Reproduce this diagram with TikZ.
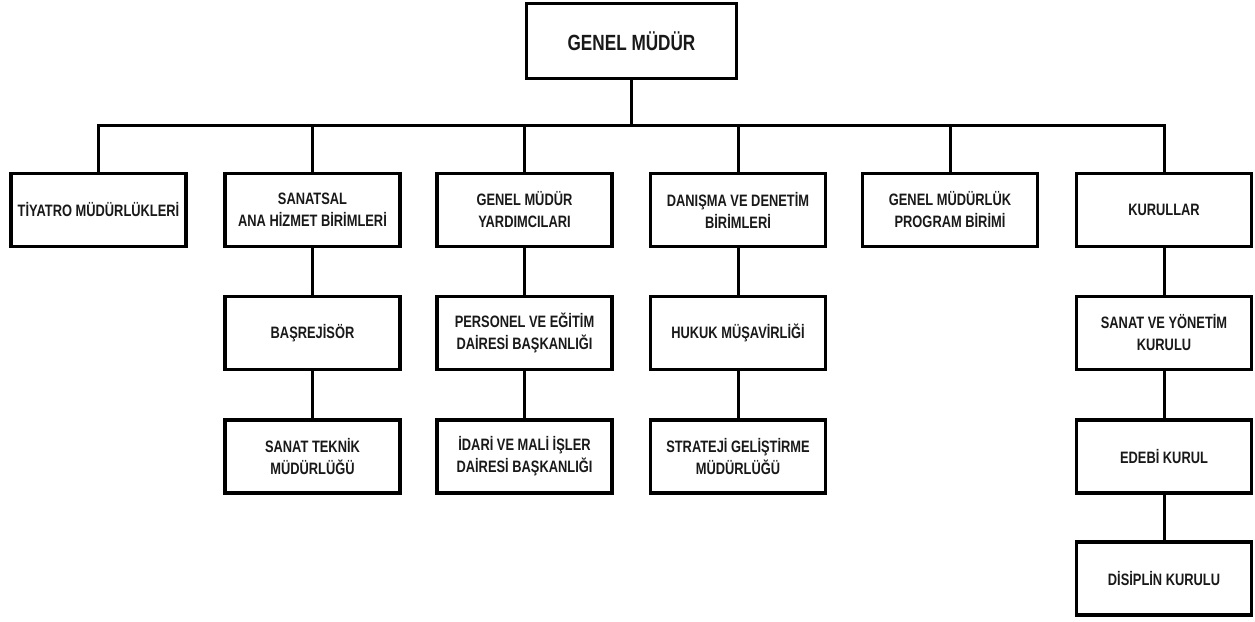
\documentclass[tikz,border=0pt]{standalone}
\usepackage{fontspec}
\setmainfont{Liberation Sans}[FakeStretch=0.78]
\begin{document}
\begin{tikzpicture}[x=1pt,y=-1pt,
  box/.style={draw, line width=3.5pt, align=center, inner sep=0pt,
    text=black!90, font=\bfseries\fontsize{16.5}{22}\selectfont,
    minimum width=175pt, minimum height=73pt},
  conn/.style={line width=3pt}]
\useasboundingbox (0,0) rectangle (1255,621);
% top
\node[box, minimum width=210pt, minimum height=75pt, font=\bfseries\fontsize{22}{26}\selectfont] (gm) at (631.5,41) {GENEL MÜDÜR};
% row 1
\node[box] (tiy) at (98.5,210) {TİYATRO MÜDÜRLÜKLERİ};
\node[box] (san) at (312.5,210) {SANATSAL\\ANA HİZMET BİRİMLERİ};
\node[box] (gmy) at (524.5,210) {GENEL MÜDÜR\\YARDIMCILARI};
\node[box] (dan) at (738,210) {DANIŞMA VE DENETİM\\BİRİMLERİ};
\node[box] (prg) at (950,210) {GENEL MÜDÜRLÜK\\PROGRAM BİRİMİ};
\node[box] (kur) at (1164,210) {KURULLAR};
% row 2
\node[box] (bas) at (312.5,333) {BAŞREJİSÖR};
\node[box] (per) at (524.5,333) {PERSONEL VE EĞİTİM\\DAİRESİ BAŞKANLIĞI};
\node[box] (huk) at (738,333) {HUKUK MÜŞAVİRLİĞİ};
\node[box] (syk) at (1164,333) {SANAT VE YÖNETİM\\KURULU};
% row 3
\node[box] (stm) at (312.5,456.5) {SANAT TEKNİK\\MÜDÜRLÜĞÜ};
\node[box] (idr) at (524.5,456.5) {İDARİ VE MALİ İŞLER\\DAİRESİ BAŞKANLIĞI};
\node[box] (str) at (738,456.5) {STRATEJİ GELİŞTİRME\\MÜDÜRLÜĞÜ};
\node[box] (ede) at (1164,456.5) {EDEBİ KURUL};
% row 4
\node[box] (dis) at (1164,578.5) {DİSİPLİN KURULU};
% bus
\coordinate (bus) at (0,125);
\draw[conn] (tiy.north) -- (tiy.north |- bus) -- (kur.north |- bus) -- (kur.north);
\draw[conn] (gm.south) -- (gm.south |- bus);
\foreach \n in {san,gmy,dan,prg}
  \draw[conn] (\n.north) -- (\n.north |- bus);
% columns
\draw[conn] (san) -- (bas);
\draw[conn] (bas) -- (stm);
\draw[conn] (gmy) -- (per);
\draw[conn] (per) -- (idr);
\draw[conn] (dan) -- (huk);
\draw[conn] (huk) -- (str);
\draw[conn] (kur) -- (syk);
\draw[conn] (syk) -- (ede);
\draw[conn] (ede) -- (dis);
\end{tikzpicture}
\end{document}
